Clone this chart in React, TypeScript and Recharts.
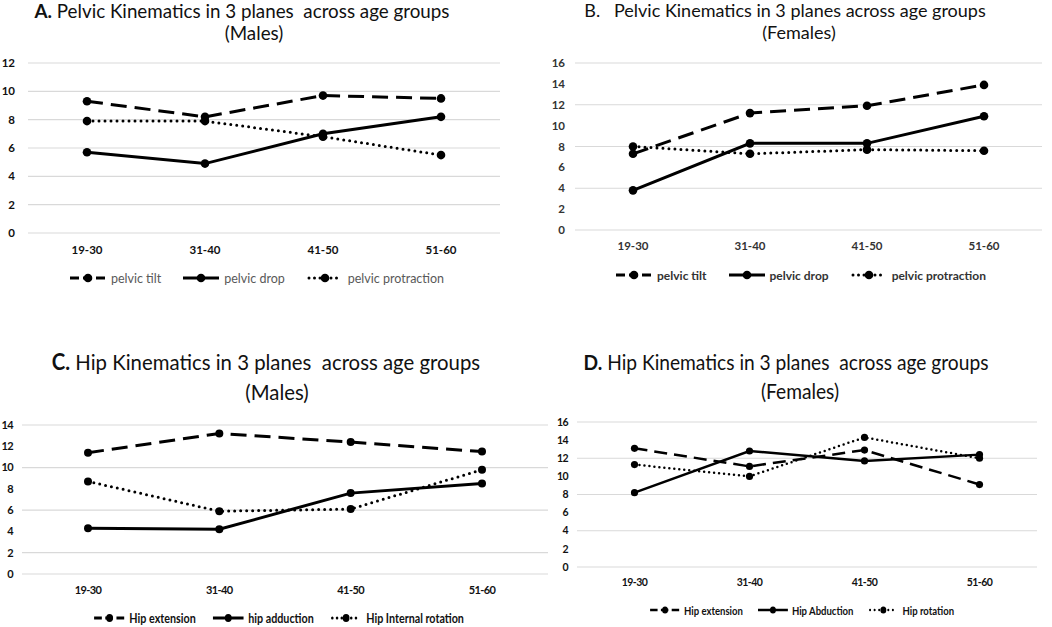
import { LineChart, Line, XAxis, YAxis, CartesianGrid, Legend } from "recharts"

// Age groups (x axis)
const AGE_GROUPS = ["19-30", "31-40", "41-50", "51-60"]

// A. pelvis, males
const malePelvicTilt = [9.3, 8.2, 9.7, 9.5]
const malePelvicDrop = [5.7, 4.9, 7.0, 8.2]
const malePelvicProtraction = [7.9, 7.9, 6.8, 5.5]

// B. pelvis, females
const femalePelvicTilt = [7.3, 11.2, 11.9, 13.9]
const femalePelvicDrop = [3.8, 8.3, 8.3, 10.9]
const femalePelvicProtraction = [8.0, 7.3, 7.7, 7.6]

// C. hip, males
const maleHipExtension = [11.4, 13.2, 12.4, 11.5]
const maleHipAdduction = [4.3, 4.2, 7.6, 8.5]
const maleHipRotation = [8.7, 5.9, 6.1, 9.8]

// D. hip, females
const femaleHipExtension = [13.1, 11.1, 12.9, 9.1]
const femaleHipAbduction = [8.2, 12.8, 11.7, 12.4]
const femaleHipRotation = [11.3, 10.0, 14.3, 12.0]

// y ticks
const TICKS_A = [0, 2, 4, 6, 8, 10, 12]
const TICKS_B = [0, 2, 4, 6, 8, 10, 12, 14, 16]
const TICKS_C = [0, 2, 4, 6, 8, 10, 12, 14]
const TICKS_D = [0, 2, 4, 6, 8, 10, 12, 14, 16]

type LineKind = "dash" | "solid" | "dot"

interface Series {
  key: string
  name: string
  values: number[]
  kind: LineKind
}

interface Panel {
  id: string
  left: number
  top: number
  width: number
  height: number
  margin: { top: number; right: number; bottom: number; left: number }
  yWidth: number
  yTickMargin: number
  xHeight: number
  xTickMargin: number
  pad: number
  ticks: number[]
  series: Series[]
  lineWidth: number
  dash: string
  dot: string
  dotR: number
  tickSize: number
  tickSpacing: number
  tickColor: string
  legendSize: number
  legendColor: string
  legendWeight: number
  legendH: number
  legendCenter: number
  legendGap: number
  legendScale: number
  titleSize: number
  titleScale: number
  label: string
  labelBold: boolean
  line1: string
  line2: string
  t1: { x: number; y: number }
  t2: { x: number; y: number }
}

const FONT = "Lato, 'Open Sans', sans-serif"

const PANELS: Panel[] = [
  {
    id: "A",
    left: 0, top: 0, width: 520, height: 300,
    margin: { top: 63, right: 20, bottom: 12, left: 0 },
    yWidth: 28, yTickMargin: 7, xHeight: 35, xTickMargin: 7, pad: 59,
    ticks: TICKS_A,
    series: [
      { key: "tilt", name: "pelvic tilt", values: malePelvicTilt, kind: "dash" },
      { key: "drop", name: "pelvic drop", values: malePelvicDrop, kind: "solid" },
      { key: "prot", name: "pelvic protraction", values: malePelvicProtraction, kind: "dot" },
    ],
    lineWidth: 3, dash: "16 8", dot: "0 6", dotR: 4.3,
    tickSize: 11.5, tickSpacing: 0, tickColor: "#111",
    legendSize: 12.5, legendColor: "#595959", legendWeight: 400, legendH: 20, legendCenter: 257, legendGap: 22, legendScale: 1,
    titleSize: 18.8, titleScale: 1,
    label: "A.", labelBold: true,
    line1: " Pelvic Kinematics in 3 planes\u00a0 across age groups", line2: "(Males)",
    t1: { x: 242, y: 11 }, t2: { x: 254, y: 33 },
  },
  {
    id: "B",
    left: 520, top: 0, width: 532, height: 300,
    margin: { top: 63, right: 10, bottom: 15, left: 0 },
    yWidth: 55, yTickMargin: 4, xHeight: 35, xTickMargin: 6, pad: 58,
    ticks: TICKS_B,
    series: [
      { key: "tilt", name: "pelvic tilt", values: femalePelvicTilt, kind: "dash" },
      { key: "drop", name: "pelvic drop", values: femalePelvicDrop, kind: "solid" },
      { key: "prot", name: "pelvic protraction", values: femalePelvicProtraction, kind: "dot" },
    ],
    lineWidth: 3, dash: "16 8", dot: "0 6", dotR: 4.3,
    tickSize: 11.5, tickSpacing: 0, tickColor: "#333",
    legendSize: 12, legendColor: "#333", legendWeight: 700, legendH: 20, legendCenter: 281, legendGap: 22, legendScale: 1,
    titleSize: 18, titleScale: 1,
    label: "B.", labelBold: false,
    line1: "\u00a0\u00a0 Pelvic Kinematics in 3 planes across age groups", line2: "(Females)",
    t1: { x: 265, y: 11 }, t2: { x: 279, y: 33 },
  },
  {
    id: "C",
    left: 0, top: 300, width: 560, height: 327,
    margin: { top: 125, right: 12, bottom: 1, left: 0 },
    yWidth: 22, yTickMargin: 3, xHeight: 36, xTickMargin: 6, pad: 66,
    ticks: TICKS_C,
    series: [
      { key: "ext", name: "Hip extension", values: maleHipExtension, kind: "dash" },
      { key: "add", name: "hip adduction", values: maleHipAdduction, kind: "solid" },
      { key: "rot", name: "Hip Internal rotation", values: maleHipRotation, kind: "dot" },
    ],
    lineWidth: 3, dash: "16 8", dot: "0 6", dotR: 4,
    tickSize: 11, tickSpacing: -0.6, tickColor: "#111",
    legendSize: 12.5, legendColor: "#111", legendWeight: 700, legendH: 16, legendCenter: 279, legendGap: 20, legendScale: 0.86,
    titleSize: 22, titleScale: 0.925,
    label: "C.", labelBold: true,
    line1: " Hip Kinematics in 3 planes\u00a0 across age groups", line2: "(Males)",
    t1: { x: 266, y: 62 }, t2: { x: 277, y: 92 },
  },
  {
    id: "D",
    left: 520, top: 300, width: 532, height: 327,
    margin: { top: 122, right: 15, bottom: 9, left: 0 },
    yWidth: 57, yTickMargin: 3, xHeight: 35, xTickMargin: 6, pad: 57.5,
    ticks: TICKS_D,
    series: [
      { key: "ext", name: "Hip extension", values: femaleHipExtension, kind: "dash" },
      { key: "abd", name: "Hip Abduction", values: femaleHipAbduction, kind: "solid" },
      { key: "rot", name: "Hip rotation", values: femaleHipRotation, kind: "dot" },
    ],
    lineWidth: 2.5, dash: "13 7", dot: "0 5", dotR: 3.6,
    tickSize: 10.5, tickSpacing: -0.6, tickColor: "#111",
    legendSize: 11.5, legendColor: "#111", legendWeight: 700, legendH: 16, legendCenter: 282, legendGap: 18, legendScale: 0.83,
    titleSize: 20.3, titleScale: 0.945,
    label: "D.", labelBold: true,
    line1: " Hip Kinematics in 3 planes\u00a0 across age groups", line2: "(Females)",
    t1: { x: 266, y: 62 }, t2: { x: 280, y: 91 },
  },
]

function dashFor(p: Panel, kind: LineKind) {
  if (kind === "dash") return p.dash
  if (kind === "dot") return p.dot
  return undefined
}

function LegendRow({ p }: { p: Panel }) {
  return (
    <div
      style={{
        width: p.width,
        height: p.legendH,
        display: "flex",
        justifyContent: "center",
        alignItems: "center",
        transform: `translateX(${p.legendCenter - p.width / 2}px) scaleX(${p.legendScale})`,
        fontFamily: FONT,
        fontSize: p.legendSize,
        fontWeight: p.legendWeight,
        color: p.legendColor,
        whiteSpace: "nowrap",
      }}
    >
      {p.series.map((s, i) => (
        <div key={s.key} style={{ display: "flex", alignItems: "center", marginLeft: i === 0 ? 0 : p.legendGap }}>
          <svg width={36} height={12} style={{ marginRight: 5 }}>
            <line
              x1={s.kind === "dot" ? 2 : 0}
              y1={6}
              x2={s.kind === "dot" ? 34 : 36}
              y2={6}
              stroke="#000"
              strokeWidth={p.lineWidth}
              strokeDasharray={s.kind === "dash" ? "9 4" : s.kind === "dot" ? "0 5.5" : undefined}
              strokeLinecap={s.kind === "dot" ? "round" : "butt"}
            />
            <circle cx={18} cy={6} r={p.dotR} fill="#000" />
          </svg>
          <span>{s.name}</span>
        </div>
      ))}
    </div>
  )
}

function TitleLine({ p, at, children }: { p: Panel; at: { x: number; y: number }; children: React.ReactNode }) {
  return (
    <div
      style={{
        position: "absolute",
        left: at.x - 300,
        width: 600,
        top: at.y - p.titleSize * 0.6,
        textAlign: "center",
        fontFamily: FONT,
        fontSize: p.titleSize,
        lineHeight: `${p.titleSize * 1.2}px`,
        color: "#111",
        whiteSpace: "pre",
        transform: `scaleX(${p.titleScale})`,
      }}
    >
      {children}
    </div>
  )
}

function KinematicsChart({ p }: { p: Panel }) {
  const data = AGE_GROUPS.map((age, i) => {
    const row: Record<string, string | number> = { age }
    p.series.forEach((s) => {
      row[s.key] = s.values[i]
    })
    return row
  })
  const max = p.ticks[p.ticks.length - 1]
  const tickStyle = {
    fontFamily: FONT,
    fontSize: p.tickSize,
    fontWeight: 700,
    fill: p.tickColor,
    letterSpacing: p.tickSpacing,
  }

  return (
    <div style={{ position: "absolute", left: p.left, top: p.top, width: p.width, height: p.height }}>
      <LineChart width={p.width} height={p.height} data={data} margin={p.margin}>
        <CartesianGrid vertical={false} stroke="#d9d9d9" strokeWidth={1.2} />
        <XAxis
          dataKey="age"
          axisLine={false}
          tickLine={false}
          height={p.xHeight}
          tickMargin={p.xTickMargin}
          padding={{ left: p.pad, right: p.pad }}
          interval={0}
          tick={tickStyle}
        />
        <YAxis
          domain={[0, max]}
          ticks={p.ticks}
          axisLine={false}
          tickLine={false}
          width={p.yWidth}
          tickMargin={p.yTickMargin}
          tick={tickStyle}
        />
        <Legend
          verticalAlign="bottom"
          wrapperStyle={{ left: 0, width: p.width, bottom: p.margin.bottom }}
          content={() => <LegendRow p={p} />}
        />
        {p.series.map((s) => (
          <Line
            key={s.key}
            dataKey={s.key}
            name={s.name}
            type="linear"
            stroke="#000"
            strokeWidth={p.lineWidth}
            strokeDasharray={dashFor(p, s.kind)}
            strokeLinecap={s.kind === "dot" ? "round" : "butt"}
            dot={{ r: p.dotR, fill: "#000", stroke: "none", strokeWidth: 0 }}
            activeDot={false}
            isAnimationActive={false}
          />
        ))}
      </LineChart>
      <TitleLine p={p} at={p.t1}>
        <span style={{ fontWeight: p.labelBold ? 700 : 400 }}>{p.label}</span>
        {p.line1}
      </TitleLine>
      <TitleLine p={p} at={p.t2}>
        {p.line2}
      </TitleLine>
    </div>
  )
}

export default function App() {
  return (
    <div style={{ position: "absolute", left: 0, top: 0, width: 1052, height: 627, background: "#fff", overflow: "hidden" }}>
      {PANELS.map((p) => (
        <KinematicsChart key={p.id} p={p} />
      ))}
    </div>
  )
}
